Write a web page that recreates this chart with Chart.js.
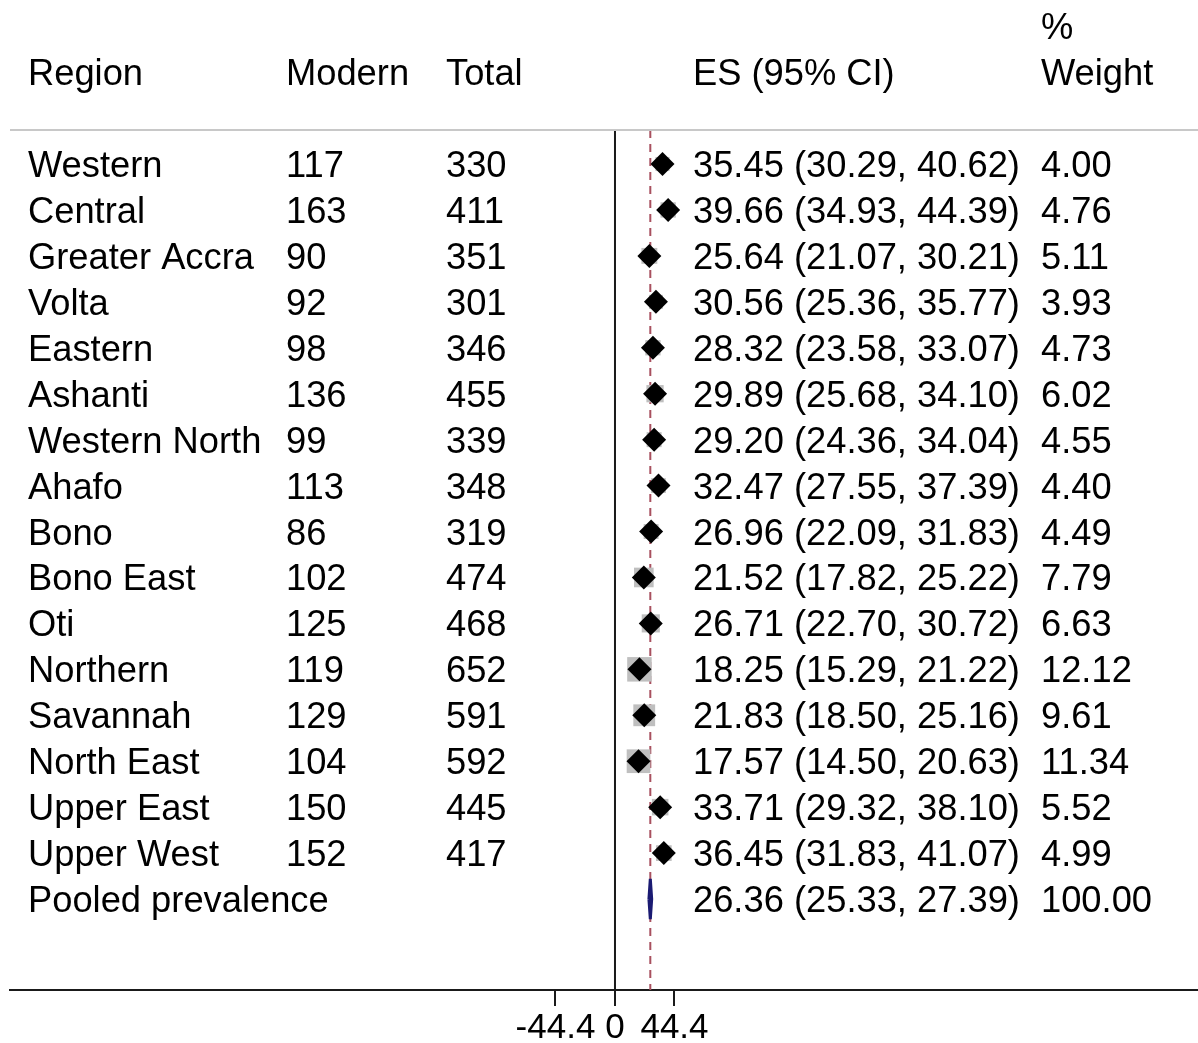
<!DOCTYPE html>
<html>
<head>
<meta charset="utf-8">
<script src="https://cdn.jsdelivr.net/npm/chart.js@4/dist/chart.umd.min.js"></script>
<style>
  html, body { margin: 0; padding: 0; background: #ffffff; }
  #wrap { width: 1198px; height: 1043px; position: relative; }
</style>
</head>
<body>
<div id="wrap"><canvas id="c" width="1198" height="1043"></canvas></div>
<script>
// ---- data ----
const regions = ["Western","Central","Greater Accra","Volta","Eastern","Ashanti","Western North","Ahafo","Bono","Bono East","Oti","Northern","Savannah","North East","Upper East","Upper West"];
const modern  = [117,163,90,92,98,136,99,113,86,102,125,119,129,104,150,152];
const total   = [330,411,351,301,346,455,339,348,319,474,468,652,591,592,445,417];
const es      = [35.45,39.66,25.64,30.56,28.32,29.89,29.20,32.47,26.96,21.52,26.71,18.25,21.83,17.57,33.71,36.45];
const ciLow   = [30.29,34.93,21.07,25.36,23.58,25.68,24.36,27.55,22.09,17.82,22.70,15.29,18.50,14.50,29.32,31.83];
const ciHigh  = [40.62,44.39,30.21,35.77,33.07,34.10,34.04,37.39,31.83,25.22,30.72,21.22,25.16,20.63,38.10,41.07];
const weights = [4.00,4.76,5.11,3.93,4.73,6.02,4.55,4.40,4.49,7.79,6.63,12.12,9.61,11.34,5.52,4.99];
const pooledLabel = "Pooled prevalence";
const pooledES = 26.36, pooledLow = 25.33, pooledHigh = 27.39, pooledWeight = 100.00;
const xTicks = [-44.4, 0, 44.4];
const headers = { region: "Region", modern: "Modern", total: "Total", es: "ES (95% CI)", w1: "%", w2: "Weight" };

// ---- layout / style ----
const X_MIN = -451.5, X_MAX = 435.1;
const Y_MIN = -0.74, Y_MAX = 17.98;
const FONT = "36.3px 'Liberation Sans', Arial, sans-serif";
const nRows = regions.length;
const pooledRow = nRows;

const rowIdx = regions.map((_, i) => i);
const diamonds = rowIdx.map(i => ({ x: es[i], y: i }));
const boxes = rowIdx.map(i => ({ x: es[i], y: i }));
const ciSegs = [];
rowIdx.forEach(i => { ciSegs.push({ x: ciLow[i], y: i }, { x: ciHigh[i], y: i }, { x: null, y: null }); });
const pooledShape = [
  { x: pooledLow, y: pooledRow },
  { x: pooledES, y: pooledRow - 0.44 },
  { x: pooledHigh, y: pooledRow },
  { x: pooledES, y: pooledRow + 0.44 },
  { x: pooledLow, y: pooledRow }
];

const textPlugin = {
  id: 'tableText',
  afterDraw(chart) {
    const ctx = chart.ctx;
    const ys = chart.scales.y;
    ctx.save();
    // header separator
    ctx.strokeStyle = '#c8c8c8';
    ctx.lineWidth = 2;
    ctx.beginPath();
    ctx.moveTo(10, 130);
    ctx.lineTo(1198, 130);
    ctx.stroke();

    ctx.fillStyle = '#000';
    ctx.font = FONT;
    ctx.textAlign = 'left';
    ctx.textBaseline = 'alphabetic';
    ctx.fillText(headers.region, 28, 85);
    ctx.fillText(headers.modern, 286, 85);
    ctx.fillText(headers.total, 446, 85);
    ctx.fillText(headers.es, 693, 85);
    ctx.fillText(headers.w1, 1041, 39);
    ctx.fillText(headers.w2, 1041, 85);

    rowIdx.forEach(i => {
      const yb = ys.getPixelForValue(i) + 13;
      ctx.fillText(regions[i], 28, yb);
      ctx.fillText(String(modern[i]), 286, yb);
      ctx.fillText(String(total[i]), 446, yb);
      ctx.fillText(es[i].toFixed(2) + " (" + ciLow[i].toFixed(2) + ", " + ciHigh[i].toFixed(2) + ")", 693, yb);
      ctx.fillText(weights[i].toFixed(2), 1041, yb);
    });
    const yp = ys.getPixelForValue(pooledRow) + 13;
    ctx.fillText(pooledLabel, 28, yp);
    ctx.fillText(pooledES.toFixed(2) + " (" + pooledLow.toFixed(2) + ", " + pooledHigh.toFixed(2) + ")", 693, yp);
    ctx.fillText(pooledWeight.toFixed(2), 1041, yp);
    ctx.restore();
  }
};

new Chart(document.getElementById('c'), {
  type: 'scatter',
  data: {
    datasets: [
      { // study diamonds
        data: diamonds, order: 0,
        pointStyle: 'rectRot', pointRadius: 12, pointHoverRadius: 12,
        backgroundColor: '#000', borderColor: '#000', borderWidth: 0, showLine: false
      },
      { // pooled diamond
        type: 'line', data: pooledShape, order: 1,
        borderColor: '#1a1a72', backgroundColor: '#1a1a72', borderWidth: 3,
        fill: 'shape', pointRadius: 0, tension: 0
      },
      { // weight boxes
        data: boxes, order: 2,
        pointStyle: 'rect',
        pointRadius: ctx => (24.5 * Math.sqrt(weights[ctx.dataIndex] / 12.12)) / 1.4142,
        backgroundColor: '#bfbfbf', borderWidth: 0, showLine: false
      },
      { // CI lines
        type: 'line', data: ciSegs, order: 3,
        borderColor: '#000', borderWidth: 1.5, pointRadius: 0, spanGaps: false, fill: false
      },
      { // pooled reference line
        type: 'line', order: 4,
        data: [{ x: pooledES, y: Y_MIN }, { x: pooledES, y: Y_MAX }],
        borderColor: '#a8505f', borderWidth: 2, borderDash: [8, 6], pointRadius: 0, fill: false
      },
      { // null line
        type: 'line', order: 5,
        data: [{ x: 0, y: Y_MIN }, { x: 0, y: Y_MAX }],
        borderColor: '#1a1a1a', borderWidth: 2, pointRadius: 0, fill: false
      }
    ]
  },
  options: {
    responsive: false,
    animation: false,
    devicePixelRatio: 1,
    layout: { autoPadding: false, padding: { left: 10, right: 0, top: 130, bottom: 0 } },
    plugins: { legend: { display: false }, tooltip: { enabled: false } },
    events: [],
    scales: {
      x: {
        type: 'linear', min: X_MIN, max: X_MAX, position: 'bottom',
        afterBuildTicks: s => { s.ticks = xTicks.map(v => ({ value: v })); },
        afterFit: s => { s.height = 53; },
        ticks: {
          color: '#000', padding: 1, maxRotation: 0, autoSkip: false,
          font: { family: "'Liberation Sans', Arial, sans-serif", size: 35 },
          callback: v => String(v)
        },
        grid: { display: true, drawOnChartArea: false, drawTicks: true, tickLength: 16, color: '#1a1a1a', lineWidth: 2 },
        border: { display: true, color: '#1a1a1a', width: 2 }
      },
      y: {
        type: 'linear', min: Y_MIN, max: Y_MAX, reverse: true, display: false
      }
    }
  },
  plugins: [textPlugin]
});
</script>
</body>
</html>
